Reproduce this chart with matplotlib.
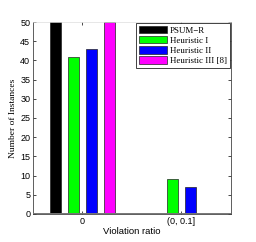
import numpy as np
import matplotlib
matplotlib.use("Agg")
import matplotlib.pyplot as plt

plt.rcParams['font.family'] = 'Liberation Sans'

# data
groups = ['0', '(0, 0.1]']
series = ['PSUM\u2212R', 'Heuristic I', 'Heuristic II', 'Heuristic III [8]']
psum_r = [50, 0]
heur_1 = [41, 9]
heur_2 = [43, 7]
heur_3 = [50, 0]
colors = ['#000000', '#00ff00', '#0000ff', '#ff00ff']

values = [psum_r, heur_1, heur_2, heur_3]
x = np.arange(1, len(groups) + 1)
offsets = [-0.27, -0.09, 0.09, 0.27]
width = 0.11

fig = plt.figure(figsize=(2.56, 2.42), dpi=100)
ax = fig.add_axes([0.129, 0.116, 0.773, 0.793])

for vals, off, col, name in zip(values, offsets, colors, series):
    ax.bar(x + off, vals, width, color=col, edgecolor='#222222',
           linewidth=0.5, label=name, zorder=2)

ax.axhline(0, color='#777777', lw=1.4, zorder=3)

ax.set_xlim(0.5, 2.5)
ax.set_ylim(0, 50)
ax.set_xticks(x)
ax.set_xticklabels(groups)
ax.set_yticks(np.arange(0, 51, 5))
ax.tick_params(direction='in', length=2.5, width=0.5, labelsize=6.5,
               right=True, top=True, pad=2)
for s in ['left', 'right', 'bottom']:
    ax.spines[s].set_linewidth(0.6)
    ax.spines[s].set_color('#444444')
ax.spines['top'].set_color('#dddddd')
ax.spines['top'].set_linewidth(0.5)

ax.set_xlabel('Violation ratio', fontsize=6.8, labelpad=1)
ax.set_ylabel('Number of Instances', fontsize=6.8, family='Liberation Serif',
              labelpad=2)

leg = ax.legend(loc='upper right', prop={'family': 'Liberation Serif', 'size': 6.4},
                fancybox=False, edgecolor='#222222', framealpha=1,
                handlelength=3.2, handleheight=0.9, handletextpad=0.3,
                labelspacing=0.15, borderpad=0.3, borderaxespad=0.15)
leg.get_frame().set_linewidth(0.6)

fig.savefig('out.png', dpi=100)
